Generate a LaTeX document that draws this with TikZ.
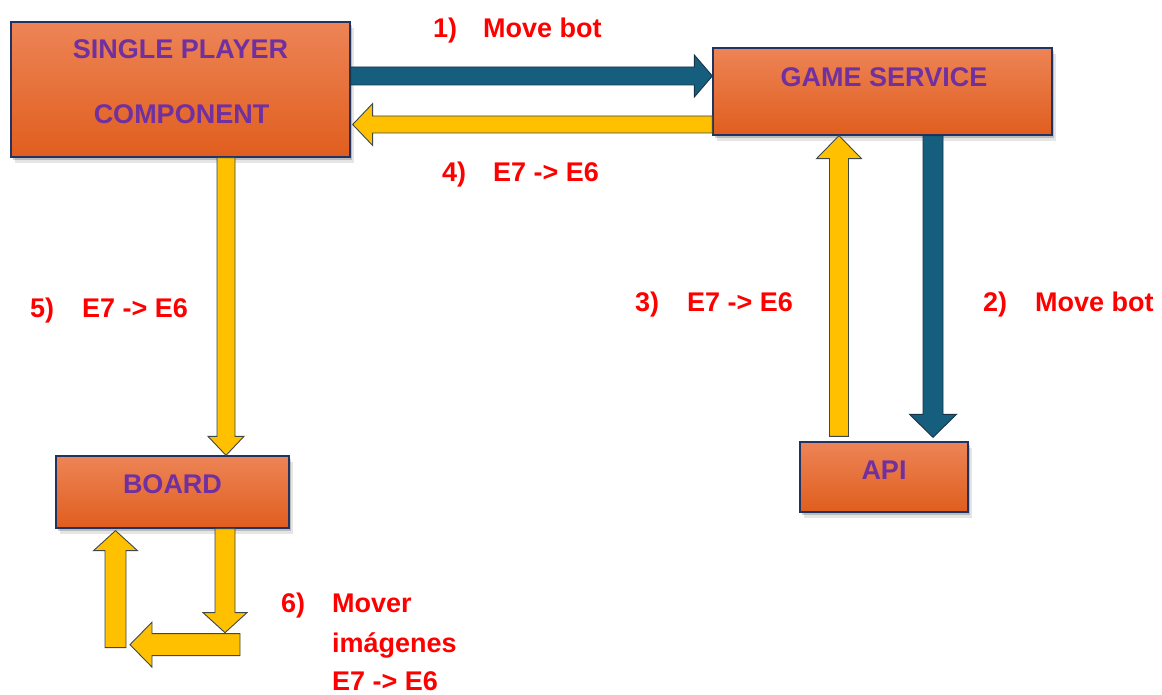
\documentclass[tikz,border=0pt]{standalone}
\usepackage{fontspec}
\setmainfont{Liberation Sans}
\usetikzlibrary{calc,shadows}

\definecolor{boxtop}{RGB}{237,132,86}
\definecolor{boxmid}{RGB}{238,110,44}
\definecolor{boxbot}{RGB}{224,94,30}
\definecolor{boxline}{RGB}{32,52,100}
\definecolor{purp}{RGB}{112,48,160}
\definecolor{arrblue}{RGB}{22,94,126}
\definecolor{arrblueline}{RGB}{24,52,72}
\definecolor{arryel}{RGB}{255,192,0}
\definecolor{arryelline}{RGB}{62,72,72}
\definecolor{labred}{RGB}{255,0,0}

% block arrow: style, start, tip, half shaft width, half head width, head length
\newcommand\blockarrow[6]{%
  \coordinate (ba-s) at (#2);
  \coordinate (ba-e) at (#3);
  \coordinate (ba-h) at ($(ba-e)!#6!(ba-s)$);
  \draw[#1] ($(ba-s)!#4!90:(ba-e)$) -- ($(ba-h)!#4!90:(ba-e)$)
    -- ($(ba-h)!#5!90:(ba-e)$) -- (ba-e) -- ($(ba-h)!#5!-90:(ba-e)$)
    -- ($(ba-h)!#4!-90:(ba-e)$) -- ($(ba-s)!#4!-90:(ba-e)$) -- cycle;
}

\tikzset{
  box/.style={draw=boxline, line width=1.3pt, top color=boxtop,
    middle color=boxmid, bottom color=boxbot, inner sep=0pt,
    drop shadow={shadow xshift=2pt, shadow yshift=-3pt, opacity=0.18, fill=black},
    drop shadow={shadow xshift=4pt, shadow yshift=-6pt, opacity=0.10, fill=black}},
  boxtext/.style={text=purp, font=\fontsize{27}{32}\selectfont\bfseries,
    anchor=base, inner sep=0pt},
  steplabel/.style={text=labred, font=\fontsize{27}{32}\selectfont\bfseries,
    anchor=base west, inner sep=0pt},
  bluearrow/.style={fill=arrblue, draw=arrblueline, line width=0.9pt, line join=miter},
  yelarrow/.style={fill=arryel, draw=arryelline, line width=0.9pt, line join=miter},
}

\begin{document}
\begin{tikzpicture}[x=1pt, y=-1pt]
\useasboundingbox[fill=white] (0,0) rectangle (1162,695);

% components
\node[box, minimum width=339pt, minimum height=135pt] (sp) at (180.5,89.5) {};
\node[box, minimum width=339pt, minimum height=87pt] (gs) at (882.5,91.5) {};
\node[box, minimum width=233pt, minimum height=72pt] (board) at (172.5,492) {};
\node[box, minimum width=168pt, minimum height=70pt] (api) at (884,477) {};

\node[boxtext] (sp-a) at ($(sp.center)+(0,-30.5)$) {SINGLE PLAYER};
\node[boxtext] (sp-b) at ($(sp.center)+(1,34.5)$) {COMPONENT};
\node[boxtext] (gs-t) at ($(gs.center)+(1.5,-4.5)$) {GAME SERVICE};
\node[boxtext] (board-t) at ($(board.center)+(0,1)$) {BOARD};
\node[boxtext] (api-t) at ($(api.center)+(0,2)$) {API};

% 1) single player -> game service
\coordinate (m1s) at ($(sp.east)+(0,-13.5)$);
\coordinate (m1e) at (gs.west |- m1s);
\blockarrow{bluearrow}{m1s}{m1e}{9pt}{21pt}{18pt}

% 2) game service -> api
\coordinate (m2s) at ($(gs.south)+(50.5,0)$);
\coordinate (m2e) at ($(api.north -| m2s)+(0,-4)$);
\blockarrow{bluearrow}{m2s}{m2e}{10pt}{23.5pt}{23pt}

% 3) api -> game service
\coordinate (m3s) at ($(api.north)+(-45,-5)$);
\coordinate (m3e) at (gs.south -| m3s);
\blockarrow{yelarrow}{m3s}{m3e}{9.5pt}{22.5pt}{23pt}

% 4) game service -> single player
\coordinate (m4s) at ($(gs.west)+(0,33)$);
\coordinate (m4e) at ($(sp.east |- m4s)+(2,0)$);
\blockarrow{yelarrow}{m4s}{m4e}{8.5pt}{21pt}{20pt}

% 5) single player -> board
\coordinate (m5s) at ($(sp.south)+(45.5,0)$);
\coordinate (m5e) at (board.north -| m5s);
\blockarrow{yelarrow}{m5s}{m5e}{9pt}{18pt}{19pt}

% 6) loop below the board
\coordinate (lr) at ($(board.south)+(52.5,116)$);
\coordinate (ll) at ($(board.south)+(-57,116)$);
\coordinate (m6a) at ($(board.south)+(52.5,0)$);
\coordinate (m6b) at ($(lr)+(0,-12)$);
\blockarrow{yelarrow}{m6a}{m6b}{10pt}{22pt}{20pt}
\coordinate (m6c) at ($(lr)+(15,0)$);
\coordinate (m6d) at ($(ll)+(14.5,0)$);
\blockarrow{yelarrow}{m6c}{m6d}{11pt}{22.5pt}{22pt}
\coordinate (m6e) at ($(ll)+(0,3)$);
\coordinate (m6f) at ($(board.south -| ll)+(0,2)$);
\blockarrow{yelarrow}{m6e}{m6f}{10.5pt}{22pt}{20pt}

% step labels
\node[steplabel] (l1n) at (433,38) {1)};
\node[steplabel] (l1t) at (483,38) {Move bot};
\node[steplabel] (l2n) at (983,311) {2)};
\node[steplabel] (l2t) at (1035,311) {Move bot};
\node[steplabel] (l3n) at (635,311) {3)};
\node[steplabel] (l3t) at (687,311) {E7 -> E6};
\node[steplabel] (l4n) at (442,182) {4)};
\node[steplabel] (l4t) at (493,182) {E7 -> E6};
\node[steplabel] (l5n) at (30,317) {5)};
\node[steplabel] (l5t) at (82,317) {E7 -> E6};
\node[steplabel] (l6n) at (281,612) {6)};
\node[steplabel] (l6a) at (332,612) {Mover};
\node[steplabel] (l6b) at (332,652) {imágenes};
\node[steplabel] (l6c) at (332,690) {E7 -> E6};
\end{tikzpicture}
\end{document}
